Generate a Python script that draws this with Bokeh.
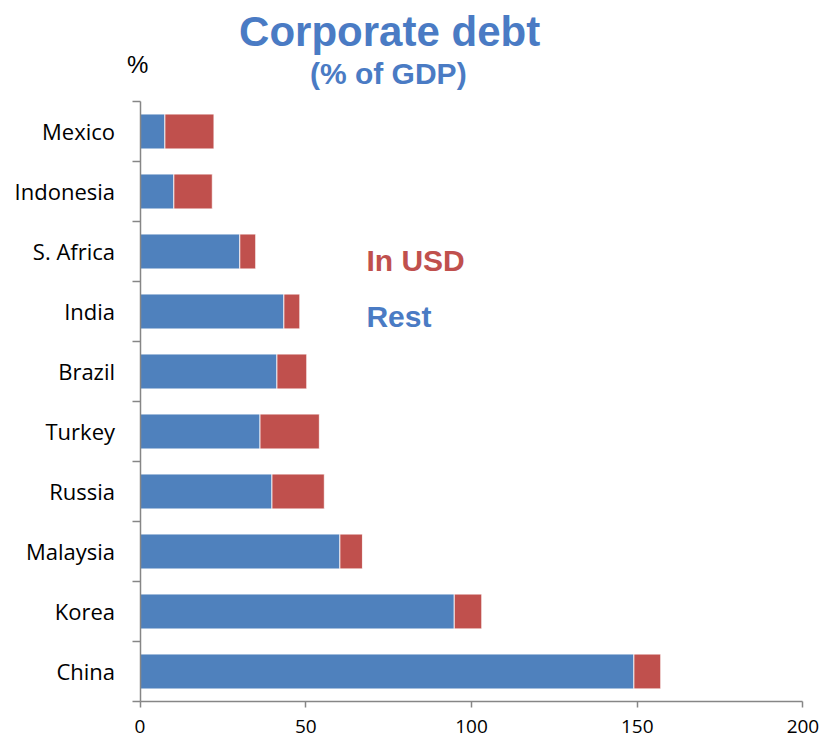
from bokeh.plotting import figure
from bokeh.models import Range1d, FixedTicker, Label, ColumnDataSource, LinearAxis
from bokeh.embed import file_html
from bokeh.resources import INLINE

# Data (top to bottom as shown)
countries = ["Mexico", "Indonesia", "S. Africa", "India", "Brazil",
             "Turkey", "Russia", "Malaysia", "Korea", "China"]
rest = [7.5, 10.2, 30.1, 43.4, 41.3, 36.2, 39.8, 60.3, 94.8, 149.0]
in_usd = [14.8, 11.6, 4.8, 4.8, 9.0, 17.9, 15.8, 6.8, 8.3, 8.1]
x_ticks = [0, 50, 100, 150, 200]

BLUE = "#4f81bd"
RED = "#c0504d"
TITLE_BLUE = "#4a7bc4"
AXIS = "#868686"

n = len(countries)
ypos = [n - i - 0.5 for i in range(n)]
total = [r + u for r, u in zip(rest, in_usd)]

src = ColumnDataSource(dict(y=ypos, rest=rest, total=total, zero=[0] * n))

# Frame spans the whole canvas; axes are pinned inside it
p = figure(width=820, height=741, output_backend="svg", toolbar_location=None,
           x_range=Range1d(-42.1, 205.3), y_range=Range1d(-0.667, 11.683),
           x_axis_location=None, y_axis_location=None,
           min_border=0)
p.outline_line_color = None
p.grid.visible = False
p.background_fill_color = "white"
p.border_fill_color = "white"

p.hbar(y="y", left="zero", right="rest", height=0.58, source=src,
       fill_color=BLUE, line_color="white", line_width=0.8)
p.hbar(y="y", left="rest", right="total", height=0.58, source=src,
       fill_color=RED, line_color="white", line_width=0.8)

# X axis
xa = LinearAxis(fixed_location=0, bounds=(0, 200))
xa.ticker = FixedTicker(ticks=x_ticks, minor_ticks=[])
xa.axis_line_color = AXIS
xa.axis_line_width = 1.5
xa.major_tick_line_color = AXIS
xa.major_tick_line_width = 1.5
xa.major_tick_out = 6
xa.major_tick_in = 0
xa.minor_tick_line_color = None
xa.major_label_text_font = "Open Sans"
xa.major_label_text_font_size = "19px"
xa.major_label_text_color = "black"
xa.major_label_standoff = 13
p.add_layout(xa, "below")

# Y axis with category labels centred, ticks at boundaries
ya = LinearAxis(fixed_location=0, bounds=(0, n))
ya.ticker = FixedTicker(ticks=ypos, minor_ticks=list(range(n + 1)))
ya.major_label_overrides = {y: c for y, c in zip(ypos, countries)}
ya.axis_line_color = AXIS
ya.axis_line_width = 1.5
ya.major_tick_line_color = None
ya.minor_tick_line_color = AXIS
ya.minor_tick_line_width = 1.5
ya.minor_tick_out = 8
ya.minor_tick_in = 0
ya.major_label_text_font = "Open Sans"
ya.major_label_text_font_size = "22px"
ya.major_label_text_color = "black"
ya.major_label_standoff = 17
p.add_layout(ya, "left")

# Titles and annotations
p.add_layout(Label(x=75.3, y=11.16, text="Corporate debt", text_align="center",
                   text_baseline="alphabetic", text_font="Liberation Sans",
                   text_font_style="bold", text_font_size="42px",
                   text_color=TITLE_BLUE))
p.add_layout(Label(x=74.9, y=10.47, text="(% of GDP)", text_align="center",
                   text_baseline="alphabetic", text_font="Liberation Sans",
                   text_font_style="bold", text_font_size="30px",
                   text_color=TITLE_BLUE))
p.add_layout(Label(x=-0.75, y=10.61, text="%", text_align="center",
                   text_baseline="alphabetic", text_font="Liberation Sans",
                   text_font_size="24px", text_color="black"))
p.add_layout(Label(x=68.3, y=7.35, text="In USD", text_align="left",
                   text_baseline="alphabetic", text_font="Liberation Sans",
                   text_font_style="bold", text_font_size="30px",
                   text_color=RED))
p.add_layout(Label(x=68.3, y=6.42, text="Rest", text_align="left",
                   text_baseline="alphabetic", text_font="Liberation Sans",
                   text_font_style="bold", text_font_size="30px",
                   text_color=TITLE_BLUE))

open("out.html", "w").write(file_html(p, INLINE))
